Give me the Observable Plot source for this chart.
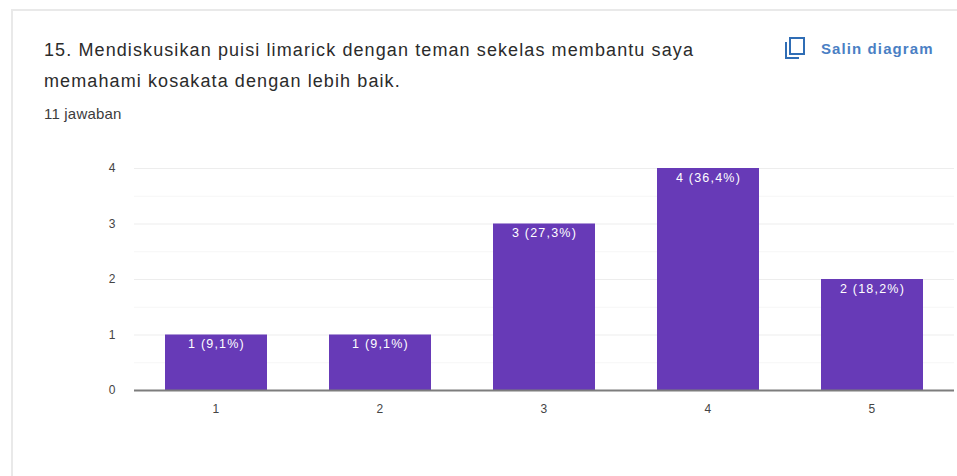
<!DOCTYPE html>
<html><head><meta charset="utf-8">
<script src="https://cdn.jsdelivr.net/npm/d3@7"></script>
<script src="https://cdn.jsdelivr.net/npm/@observablehq/plot@0.6"></script>
<style>
html,body{margin:0;padding:0;background:#fff;overflow:hidden}
#page{position:relative;width:957px;height:476px;font-family:"Liberation Sans",Arial,sans-serif;box-sizing:border-box}
#card{position:absolute;left:11px;top:9px;right:-5px;bottom:-5px;border:2px solid #e9e9e9;box-sizing:border-box;pointer-events:none}
#head{position:relative;height:140px;box-sizing:border-box;padding:35px 0 0 44px}
#title{font-size:18px;line-height:31px;color:#2b2b2b;width:670px;letter-spacing:1.1px}
#sub{font-size:15px;line-height:16px;color:#3c3c3c;letter-spacing:.2px;margin-top:9px}
#copy{position:absolute;left:784px;top:36px;display:flex;align-items:center;gap:15px;color:#4a7fc4;font-size:15px;font-weight:700;letter-spacing:1.1px}
svg.icon{display:block}
#chart svg{display:block}
#chart text{letter-spacing:1.2px}
</style></head><body>
<div id="page">
<div id="card"></div>
<div id="head">
<div id="title"></div>
<div id="sub"></div>
<div id="copy"><svg class="icon" width="22" height="24" viewBox="0 0 22 24" fill="none" stroke="#2f6db5" stroke-width="2"><path d="M2 6V22H15"/><rect x="6" y="2" width="14" height="16"/></svg><span id="copyText"></span></div>
</div>
<div id="chart"></div>
</div>
<script>
const titleText = "15. Mendiskusikan puisi limarick dengan teman sekelas membantu saya memahami kosakata dengan lebih baik.";
const subText = "11 jawaban";
const copyText = "Salin diagram";
const categories = ["1","2","3","4","5"];
const counts = [1,1,3,4,2];
const labels = ["1 (9,1%)","1 (9,1%)","3 (27,3%)","4 (36,4%)","2 (18,2%)"];
const majorTicks = [0,1,2,3,4];
const minorTicks = [0.5,1.5,2.5,3.5];
document.getElementById("title").textContent = titleText;
document.getElementById("sub").textContent = subText;
document.getElementById("copyText").textContent = copyText;
const rows = categories.map((c,i)=>({c,v:counts[i],l:labels[i]}));
const plot = Plot.plot({
  width:957,height:336,
  marginLeft:134,marginRight:3,marginTop:28,marginBottom:86,
  style:{fontFamily:"'Liberation Sans',Arial,sans-serif",fontSize:"12px",background:"transparent",overflow:"visible",color:"#444"},
  x:{domain:categories,paddingInner:0.38,paddingOuter:0.19,label:null,tickSize:0,tickPadding:14},
  y:{domain:[0,4],ticks:majorTicks,tickFormat:d3.format("d"),label:null,tickSize:0,tickPadding:18},
  marks:[
    Plot.ruleY(minorTicks,{stroke:"#f6f6f6",strokeWidth:1}),
    Plot.ruleY(majorTicks.slice(1),{stroke:"#ededed",strokeWidth:1}),
    Plot.barY(rows,{x:"c",y:"v",fill:"#673ab7"}),
    Plot.ruleY([0],{stroke:"#7d7d7d",strokeWidth:2}),
    Plot.text(rows,{x:"c",y:"v",text:"l",fill:"#fff",dy:9,fontSize:12.5})
  ]
});
document.getElementById("chart").appendChild(plot);
</script>
</body></html>
